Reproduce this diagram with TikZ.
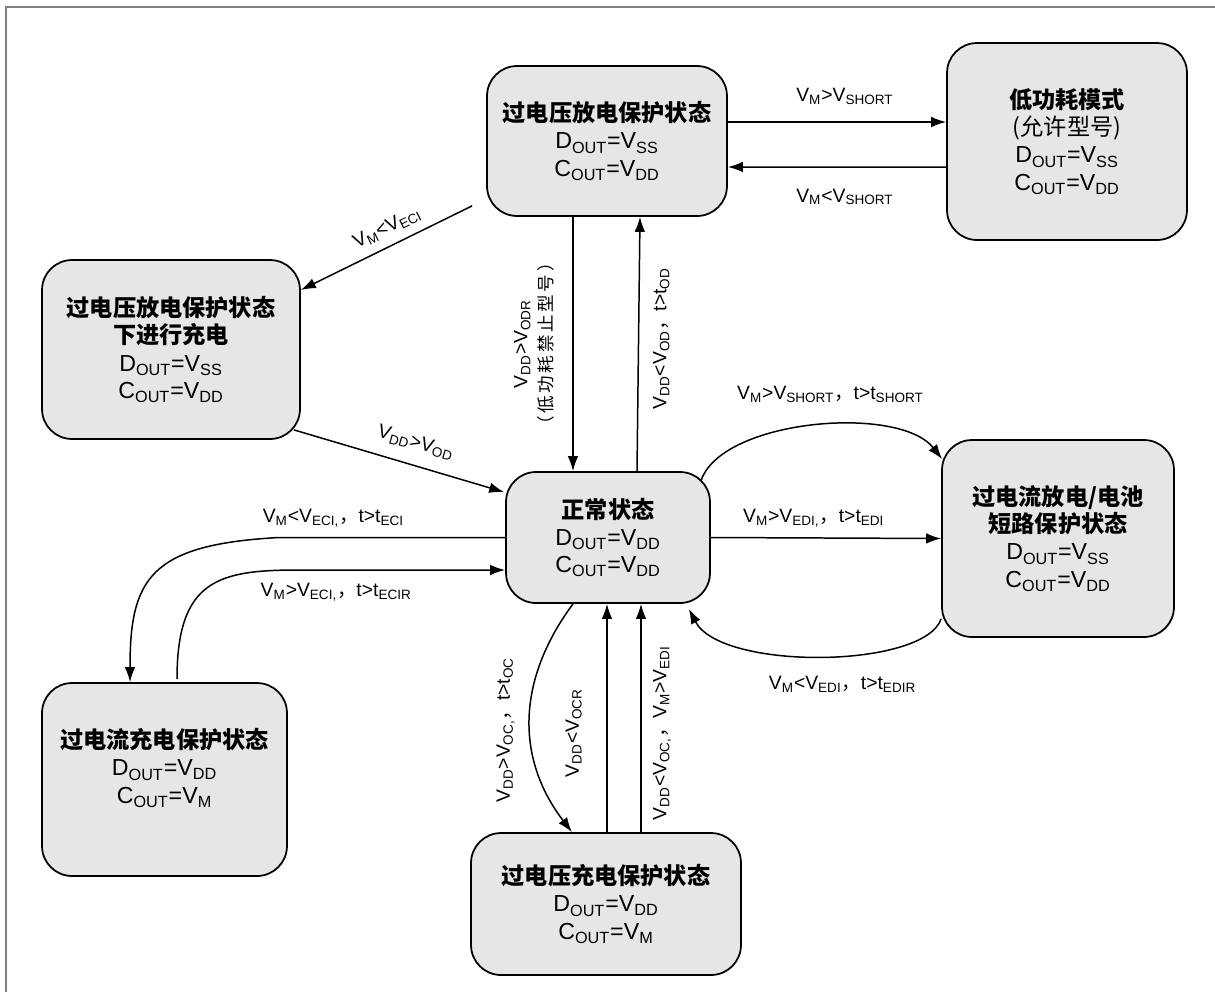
\documentclass[tikz,border=0pt]{standalone}
\usepackage{fontspec}
\setmainfont{Liberation Sans}
\newfontfamily\cjk{Noto Sans CJK SC}
\usetikzlibrary{calc,arrows.meta}
\definecolor{boxgray}{RGB}{230,230,230}
\definecolor{framegray}{RGB}{128,128,128}
\newcommand{\sub}[1]{\textsubscript{#1}}
\newcommand{\zc}{{\cjk ，}}
\newcommand{\ttl}[1]{{\cjk\bfseries #1}}

\begin{document}
\begin{tikzpicture}[x=0.02cm, y=-0.02cm, >={Latex[length=8.5pt,width=6pt]}, line width=0.85pt,
	statebox/.style={draw, fill=boxgray, rounded corners=0.6cm, line width=1pt, align=center, inner sep=0pt, font=\fontsize{13.2}{15.5}\selectfont},
	cond/.style={font=\fontsize{11}{12}\selectfont, inner sep=0pt}]
	\useasboundingbox (0,0) rectangle (1215,992);
	\draw [framegray, line width=1.2pt] (1215,7) -| (6,992);
	\node [statebox, minimum width=4.8cm, minimum height=3cm] (odis) at (607,141) {\ttl{过电压放电保护状态}\\D\sub{OUT}=V\sub{SS}\\C\sub{OUT}=V\sub{DD}};
	\node [statebox, minimum width=4.8cm, minimum height=3.94cm] (lowp) at (1067,141.5) {\ttl{低功耗模式}\\{\cjk (允许型号)}\\D\sub{OUT}=V\sub{SS}\\C\sub{OUT}=V\sub{DD}};
	\node [statebox, minimum width=5.16cm, minimum height=3.58cm] (ochg) at (171,349.5) {\ttl{过电压放电保护状态}\\\ttl{下进行充电}\\D\sub{OUT}=V\sub{SS}\\C\sub{OUT}=V\sub{DD}};
	\node [statebox, minimum width=4.08cm, minimum height=2.62cm] (normal) at (608,537.5) {\ttl{正常状态}\\D\sub{OUT}=V\sub{DD}\\C\sub{OUT}=V\sub{DD}};
	\node [statebox, minimum width=4.64cm, minimum height=3.94cm] (sc) at (1058,538.5) {\ttl{过电流放电/电池}\\\ttl{短路保护状态}\\D\sub{OUT}=V\sub{SS}\\C\sub{OUT}=V\sub{DD}};
	\node [statebox, minimum width=4.9cm, minimum height=3.86cm] (occ) at (164.5,779.5) {\ttl{过电流充电保护状态}\\D\sub{OUT}=V\sub{DD}\\C\sub{OUT}=V\sub{M}\\\mbox{}};
	\node [statebox, minimum width=5.4cm, minimum height=2.84cm] (ovc) at (606,904) {\ttl{过电压充电保护状态}\\D\sub{OUT}=V\sub{DD}\\C\sub{OUT}=V\sub{M}};
	\draw [->] ($(odis.east)+(0,-19)$) -- ($(lowp.west)+(0,-19.5)$) node [cond, midway, xshift=4.5pt, yshift=14.7pt] {V\sub{M}>V\sub{SHORT}};
	\draw [->] ($(lowp.west)+(0,25.5)$) -- ($(odis.east)+(0,26)$) node [cond, midway, xshift=4.5pt, yshift=-17pt] {V\sub{M}<V\sub{SHORT}};
	\draw [->] ($(odis.south west)+(-14,-11)$) -- ($(ochg.east)+(0,-59.5)$) node [cond, pos=0.45, sloped, above=5pt] {V\sub{M}<V\sub{ECI}};
	\draw [->] ($(ochg.south east)+(-7,-10)$) -- ($(normal.north west)+(-1,21)$) node [cond, pos=0.55, sloped, above=7.5pt] {V\sub{DD}>V\sub{OD}};
	\draw [->] ($(odis.south)+(-34,0)$) -- ($(normal.north)+(-35,0)$) node [cond, midway, xshift=-22pt, rotate=90, align=center, font=\fontsize{11}{14.5}\selectfont] {V\sub{DD}>V\sub{ODR}\\{\cjk\fontsize{10}{14.5}\selectfont\addfontfeature{LetterSpace=15}（低功耗禁止型号）}};
	\draw [->] ($(normal.north)+(29,0)$) -- ($(odis.south)+(33,0)$) node [cond, midway, xshift=13pt, yshift=3pt, rotate=90] {V\sub{DD}<V\sub{OD}\zc t>t\sub{OD}};
	\draw [->] (normal.east) -- (sc.west) node [cond, midway, xshift=-7pt, yshift=11.3pt] {V\sub{M}>V\sub{EDI,}\zc t>t\sub{EDI}};
	\draw [->] ($(normal.north east)+(-10,10)$) .. controls +(20,-62) and +(-43,-55) .. ($(sc.north west)+(1,20)$) node [cond, midway, xshift=10pt, yshift=18pt] {V\sub{M}>V\sub{SHORT}\zc t>t\sub{SHORT}};
	\draw [->] ($(sc.south west)+(0,-19)$) .. controls +(-17,50) and +(32,62) .. ($(normal.south east)+(-22,5)$) node [cond, midway, xshift=12.5pt, yshift=-16pt] {V\sub{M}<V\sub{EDI}\zc t>t\sub{EDIR}};
	\draw [->] (normal.west) -- ($(normal.west)+(-226,0)$) node [cond, pos=0.76, yshift=10.8pt] {V\sub{M}<V\sub{ECI,}\zc t>t\sub{ECI}} .. controls +(-130,7) and +(0,-103) .. ($(occ.north)+(-34.5,0)$);
	\draw [->] ($(occ.north)+(12.5,-3)$) .. controls +(0,-100) and +(-80,0) .. ($(normal.west)+(-206,32.5)$) -- ($(normal.west)+(0,32.5)$) node [cond, pos=0.18, yshift=-12.5pt] {V\sub{M}>V\sub{ECI,}\zc t>t\sub{ECIR}};
	\draw [->] ($(normal.south)+(-35,0)$) .. controls +(-57,77) and +(-56,-73) .. ($(ovc.north)+(-34,0)$) node [cond, midway, xshift=-14pt, yshift=-6pt, rotate=90] {V\sub{DD}>V\sub{OC,}\zc t>t\sub{OC}};
	\draw [->] ($(ovc.north)+(1,0)$) -- ($(normal.south)+(-1,0)$) node [cond, midway, xshift=-19pt, yshift=-8.5pt, rotate=90] {V\sub{DD}<V\sub{OCR}};
	\draw [->] ($(ovc.north)+(35,0)$) -- ($(normal.south)+(33,0)$) node [cond, midway, xshift=12pt, yshift=-8.5pt, rotate=90] {V\sub{DD}<V\sub{OC,}\zc V\sub{M}>V\sub{EDI}};
\end{tikzpicture}
\end{document}
